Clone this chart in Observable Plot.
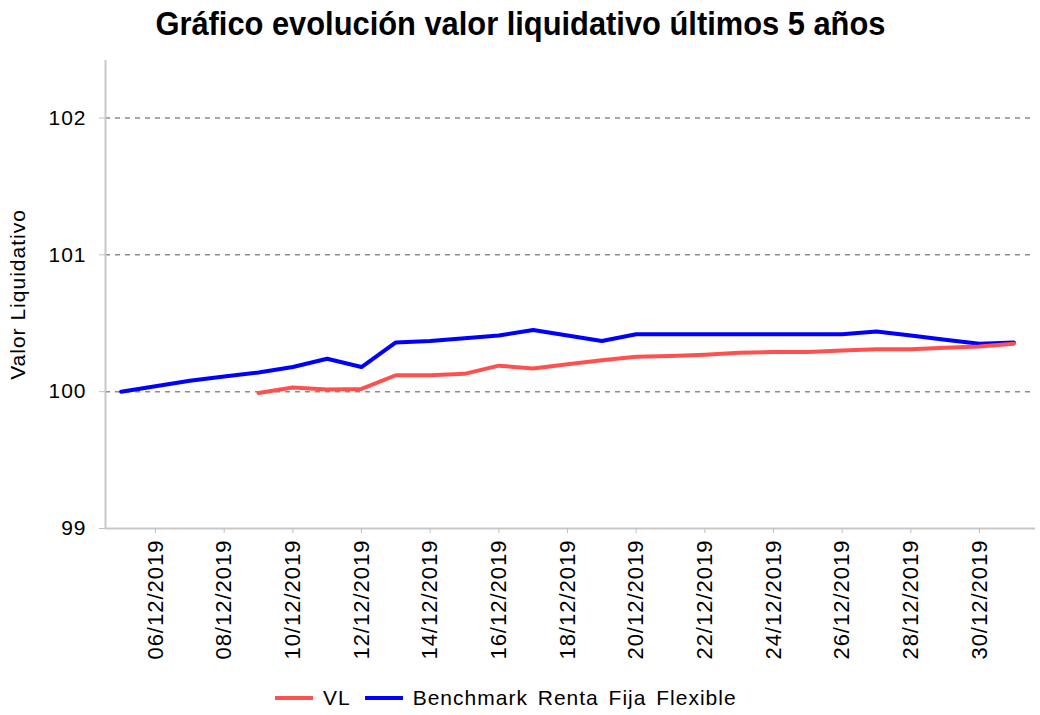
<!DOCTYPE html>
<html><head><meta charset="utf-8">
<script src="https://cdn.jsdelivr.net/npm/d3@7"></script>
<script src="https://cdn.jsdelivr.net/npm/@observablehq/plot@0.6"></script>
<style>
body{margin:0;background:#fff;font-family:"Liberation Sans",Arial,sans-serif;}
#wrap{width:1040px;}
#title{height:50px;line-height:46px;text-align:center;font-family:"Liberation Sans Narrow","Arial Narrow","Liberation Sans",sans-serif;font-weight:bold;font-size:34px;white-space:nowrap;color:#000;}
#title span{display:inline-block;transform-origin:center;}
#legend{height:35px;padding-top:10px;display:flex;align-items:center;padding-left:275px;font-size:21px;letter-spacing:1px;word-spacing:3px;color:#000;}
.sw{display:inline-block;width:38px;height:4px;margin-right:10px;}
.it{display:flex;align-items:center;margin-right:14px;}
</style></head><body>
<div id="wrap"><div id="title"><span id="tspan">Gráfico evolución valor liquidativo últimos 5 años</span></div><div id="chart"></div><div id="legend"></div></div>
<script>
const dates = ["05/12/2019","06/12/2019","07/12/2019","08/12/2019","09/12/2019","10/12/2019","11/12/2019","12/12/2019","13/12/2019","14/12/2019","15/12/2019","16/12/2019","17/12/2019","18/12/2019","19/12/2019","20/12/2019","21/12/2019","22/12/2019","23/12/2019","24/12/2019","25/12/2019","26/12/2019","27/12/2019","28/12/2019","29/12/2019","30/12/2019","31/12/2019"];
const vl = [null,null,null,null,99.99,100.03,100.015,100.02,100.12,100.12,100.13,100.19,100.17,100.20,100.23,100.255,100.26,100.27,100.285,100.29,100.29,100.30,100.31,100.31,100.32,100.33,100.35];
const bench = [100.00,100.04,100.08,100.11,100.14,100.18,100.24,100.18,100.36,100.37,100.39,100.41,100.45,100.41,100.37,100.42,100.42,100.42,100.42,100.42,100.42,100.42,100.44,100.41,100.38,100.35,100.36];
const seriesNames = ["VL","Benchmark Renta Fija Flexible"];
const seriesColors = ["#ff5050","#0000ff"];
const xTickLabels = ["06/12/2019","08/12/2019","10/12/2019","12/12/2019","14/12/2019","16/12/2019","18/12/2019","20/12/2019","22/12/2019","24/12/2019","26/12/2019","28/12/2019","30/12/2019"];
const yTicks = [99,100,101,102];
const yGrid = [100,101,102];
const yLabel = "Valor Liquidativo";

const parse = d3.utcParse("%d/%m/%Y");
const fmt = d3.utcFormat("%d/%m/%Y");
const rows = dates.map((d,i)=>({date: parse(d), vl: vl[i], bench: bench[i]}));
const x0 = new Date(Date.UTC(2019,11,4,13,3));
const x1 = new Date(Date.UTC(2019,11,31,15,9));

const chart = Plot.plot({
  width: 1040, height: 620,
  marginLeft: 105, marginRight: 5, marginTop: 10, marginBottom: 142,
  style: {fontFamily: '"Liberation Sans", Arial, sans-serif', letterSpacing: "1px", color: "#000", background: "#fff"},
  x: {type: "utc", domain: [x0, x1]},
  y: {domain: [99, 102.42]},
  marks: [
    Plot.ruleY(yGrid, {stroke: "#8c8c8c", strokeDasharray: "5,5", strokeWidth: 1.5}),
    Plot.ruleY([99], {stroke: "#c8c8c8", strokeWidth: 2}),
    Plot.ruleX([x0], {stroke: "#c8c8c8", strokeWidth: 2}),
    Plot.axisY({ticks: yTicks, tickFormat: d => String(d), tickSize: 6, tickPadding: 13, fontSize: 21, stroke: "#c0c0c0", fill: "#000", label: null}),
    Plot.axisX({ticks: xTickLabels.map(parse), tickFormat: fmt, tickRotate: -90, tickSize: 5, tickPadding: 6, fontSize: 22, stroke: "#c0c0c0", fill: "#000", label: null}),
    Plot.line(rows, {x: "date", y: "bench", stroke: seriesColors[1], strokeWidth: 4}),
    Plot.line(rows, {x: "date", y: "vl", stroke: seriesColors[0], strokeWidth: 4}),
    Plot.text([yLabel], {text: d => d, frameAnchor: "left", textAnchor: "middle", dx: -87, rotate: -90, fontSize: 21, fill: "#000", style: "letter-spacing:2px"})
  ]
});
document.getElementById("chart").appendChild(chart);

const leg = document.getElementById("legend");
seriesNames.forEach((n,i)=>{
  const it = document.createElement("span"); it.className = "it";
  const sw = document.createElement("span"); sw.className = "sw"; sw.style.background = seriesColors[i];
  const tx = document.createElement("span"); tx.textContent = n;
  it.appendChild(sw); it.appendChild(tx); leg.appendChild(it);
});

const ts = document.getElementById("tspan");
const w = ts.getBoundingClientRect().width;
ts.style.transform = `scaleX(${730 / w})`;
</script>
</body></html>
